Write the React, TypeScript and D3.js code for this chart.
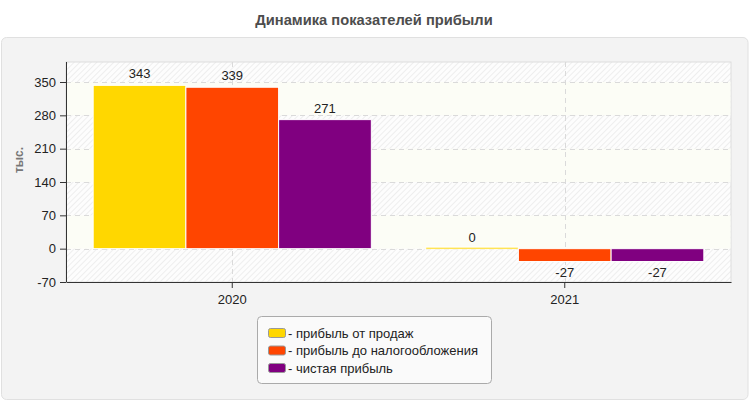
import React, { useEffect, useRef } from 'react';
import * as d3 from 'd3';

const categories = ['2020', '2021'];
const seriesNames = ['прибыль от продаж', 'прибыль до налогообложения', 'чистая прибыль'];
const seriesColors = ['#FFD700', '#FF4500', '#800080'];
const salesProfit = [343, 0];
const pretaxProfit = [339, -27];
const netProfit = [271, -27];
const yTicks = [-70, 0, 70, 140, 210, 280, 350];

const App: React.FC = () => {
  const svgRef = useRef<SVGSVGElement>(null);

  useEffect(() => {
    if (!svgRef.current) return;
    const svg = d3.select(svgRef.current);
    svg.selectAll('*').remove();

    const W = 750, H = 400;
    const plot = { left: 66, right: 731, top: 62, bottom: 282 };
    const font = '"Liberation Sans", Arial, sans-serif';
    const series = [salesProfit, pretaxProfit, netProfit];

    // hatch pattern
    const defs = svg.append('defs');
    const pat = defs.append('pattern')
      .attr('id', 'hatch')
      .attr('patternUnits', 'userSpaceOnUse')
      .attr('width', 4)
      .attr('height', 4)
      .attr('patternTransform', 'rotate(45)');
    pat.append('rect').attr('width', 4).attr('height', 4).attr('fill', '#fdfdfd');
    pat.append('line').attr('x1', 0).attr('y1', 0).attr('x2', 0).attr('y2', 4)
      .attr('stroke', '#e9e9e9').attr('stroke-width', 1.5);

    // title
    svg.append('text')
      .attr('x', 374).attr('y', 25)
      .attr('text-anchor', 'middle')
      .style('font-family', font)
      .style('font-size', '14.7px')
      .style('font-weight', 'bold')
      .style('fill', '#4d4d4d')
      .text('Динамика показателей прибыли');

    // panel
    svg.append('rect')
      .attr('x', 1.5).attr('y', 37.5)
      .attr('width', W - 3.5).attr('height', H - 38)
      .attr('rx', 5)
      .attr('fill', '#f3f3f3')
      .attr('stroke', '#e0e0e0');

    const x = d3.scaleBand<string>().domain(categories).range([plot.left, plot.right]);
    const xs = d3.scaleBand<number>().domain([0, 1, 2]).range([0, x.bandwidth()]).paddingOuter(0.293);
    const y = d3.scaleLinear().domain([-70, 392]).range([plot.bottom, plot.top]);

    // plot background
    svg.append('rect')
      .attr('x', plot.left).attr('y', plot.top)
      .attr('width', plot.right - plot.left).attr('height', plot.bottom - plot.top)
      .attr('fill', 'url(#hatch)')
      .attr('stroke', '#dddddd');

    // alternating plain bands
    const bands: [number, number][] = [[0, 70], [140, 210], [280, 350]];
    svg.selectAll('rect.band')
      .data(bands)
      .enter()
      .append('rect')
      .attr('class', 'band')
      .attr('x', plot.left + 0.5)
      .attr('width', plot.right - plot.left - 1)
      .attr('y', d => y(d[1]))
      .attr('height', d => y(d[0]) - y(d[1]))
      .attr('fill', '#fcfdf6');

    // grid
    svg.selectAll('line.hgrid')
      .data(yTicks.filter(t => t !== -70))
      .enter()
      .append('line')
      .attr('x1', plot.left).attr('x2', plot.right)
      .attr('y1', d => Math.round(y(d)) + 0.5).attr('y2', d => Math.round(y(d)) + 0.5)
      .attr('stroke', '#dadada')
      .attr('stroke-dasharray', '5,4');
    svg.selectAll('line.vgrid')
      .data(categories)
      .enter()
      .append('line')
      .attr('x1', d => Math.round(x(d)! + x.bandwidth() / 2) + 0.5)
      .attr('x2', d => Math.round(x(d)! + x.bandwidth() / 2) + 0.5)
      .attr('y1', plot.top).attr('y2', plot.bottom)
      .attr('stroke', '#dadada')
      .attr('stroke-dasharray', '5,4');

    // bars
    const barData = categories.flatMap((c, ci) =>
      series.map((s, si) => ({ c, si, v: s[ci] })));
    const g = svg.append('g');
    g.selectAll('rect')
      .data(barData)
      .enter()
      .append('rect')
      .attr('x', d => x(d.c)! + xs(d.si)!)
      .attr('width', xs.bandwidth())
      .attr('y', d => d.v === 0 ? y(0) - 1.5 : Math.min(y(d.v), y(0)))
      .attr('height', d => d.v === 0 ? 2 : Math.abs(y(d.v) - y(0)))
      .attr('fill', d => seriesColors[d.si])
      .attr('stroke', '#ffffff')
      .attr('stroke-width', 1);

    g.selectAll('text')
      .data(barData)
      .enter()
      .append('text')
      .attr('x', d => x(d.c)! + xs(d.si)! + xs.bandwidth() / 2)
      .attr('y', d => d.v >= 0 ? y(d.v) - 7 : y(d.v) + 15)
      .attr('text-anchor', 'middle')
      .style('font-family', font)
      .style('font-size', '13px')
      .style('fill', '#222')
      .text(d => String(d.v));

    // axes
    const yAxis = svg.append('g')
      .attr('transform', `translate(${plot.left},0)`)
      .call(d3.axisLeft(y).tickValues(yTicks).tickFormat(d => String(d)).tickSize(6).tickSizeOuter(0));
    yAxis.select('.domain').attr('stroke', '#333').attr('d', `M0.5,${plot.top}V${plot.bottom}`);
    yAxis.selectAll('.tick line').attr('stroke', '#333');
    yAxis.selectAll('.tick text')
      .attr('x', -10)
      .style('font-family', font).style('font-size', '13px').style('fill', '#222');

    const xAxis = svg.append('g')
      .attr('transform', `translate(0,${plot.bottom})`)
      .call(d3.axisBottom(x).tickSize(6).tickSizeOuter(0));
    xAxis.select('.domain').attr('stroke', '#333');
    xAxis.selectAll('.tick line').attr('stroke', '#333');
    xAxis.selectAll('.tick text')
      .attr('y', 10)
      .attr('dy', '0.9em')
      .style('font-family', font).style('font-size', '13px').style('fill', '#222');

    // y-axis title
    svg.append('text')
      .attr('transform', 'translate(23,160) rotate(-90)')
      .attr('text-anchor', 'middle')
      .style('font-family', font)
      .style('font-size', '12px')
      .style('font-weight', 'bold')
      .style('fill', '#777')
      .text('тыс.');

    // legend
    const lg = svg.append('g');
    lg.append('rect')
      .attr('x', 257.5).attr('y', 316.5)
      .attr('width', 234).attr('height', 67)
      .attr('rx', 4)
      .attr('fill', '#fafafa')
      .attr('stroke', '#aaaaaa');
    const items = lg.selectAll('g.item')
      .data(seriesNames)
      .enter()
      .append('g')
      .attr('transform', (_, i) => `translate(268,${333 + i * 17.5})`);
    items.append('rect')
      .attr('x', 0.5).attr('y', -4.5)
      .attr('width', 17).attr('height', 9)
      .attr('rx', 2)
      .attr('fill', (_, i) => seriesColors[i])
      .attr('stroke', '#999');
    items.append('text')
      .attr('x', 20).attr('y', 4.5)
      .style('font-family', font)
      .style('font-size', '13px')
      .style('fill', '#222')
      .text(d => '- ' + d);
  }, []);

  return (
    <svg
      ref={svgRef}
      width={750}
      height={400}
      style={{ position: 'absolute', left: 0, top: 0, background: '#fff' }}
    />
  );
};

export default App;
